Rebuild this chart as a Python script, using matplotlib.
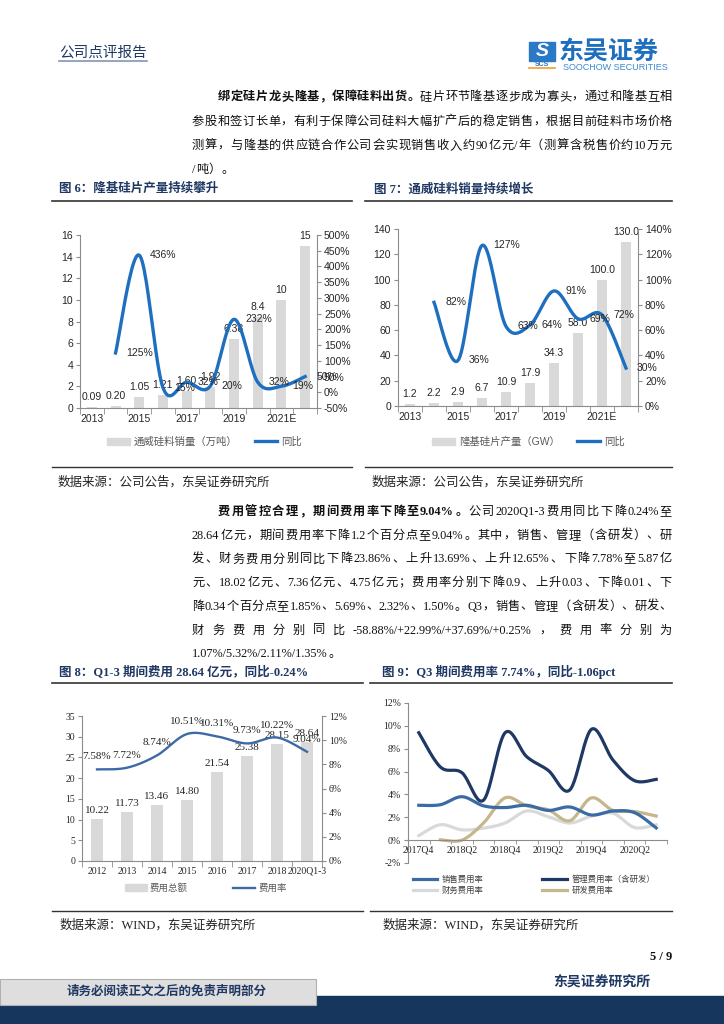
import numpy as np
import matplotlib.pyplot as plt
from matplotlib.patches import Rectangle, Patch
from matplotlib.lines import Line2D
from matplotlib.ticker import FuncFormatter

SANS = ['Liberation Sans', 'Noto Sans CJK SC']
SERIF = ['Liberation Serif', 'Noto Sans CJK SC']
plt.rcParams['font.family'] = SANS

# ---- data ----
years = ['2013', '2014', '2015', '2016', '2017', '2018', '2019', '2020', '2021E', '2022E']
tw_sales = [0.09, 0.20, 1.05, 1.21, 1.60, 1.92, 6.38, 8.4, 10, 15]
tw_sales_lbl = ['0.09', '0.20', '1.05', '1.21', '1.60', '1.92', '6.38', '8.4', '10', '15']
tw_yoy = [np.nan, 125, 436, 15, 32, 20, 232, 32, 19, 50]
lj_output = [1.2, 2.2, 2.9, 6.7, 10.9, 17.9, 34.3, 58.0, 100.0, 130.0]
lj_yoy = [np.nan, 82, 36, 127, 63, 64, 91, 69, 72, 30]

fee_years = ['2012', '2013', '2014', '2015', '2016', '2017', '2018', '2020Q1-3']
fee_total = [10.22, 11.73, 13.46, 14.80, 21.54, 25.38, 28.15, 28.64]
fee_rate = [7.58, 7.72, 8.74, 10.51, 10.31, 9.73, 10.22, 9.04]

quarters = ['2017Q4', '2018Q1', '2018Q2', '2018Q3', '2018Q4', '2019Q1', '2019Q2',
            '2019Q3', '2019Q4', '2020Q1', '2020Q2', '2020Q3']
sell_rate = [3.05, 3.1, 3.8, 3.0, 2.85, 3.05, 2.6, 2.9, 2.2, 2.55, 2.4, 1.07]
mgmt_rate = [9.4, 6.4, 5.9, 3.5, 9.4, 7.3, 6.1, 4.4, 9.7, 7.0, 5.2, 5.32]
fin_rate = [0.4, 1.35, 0.9, 1.05, 1.5, 2.55, 2.05, 1.5, 2.1, 2.35, 1.1, 1.35]
rd_rate = [np.nan, 0.03, 0.0, 1.5, 3.7, 3.0, 2.65, 1.7, 3.7, 2.6, 2.5, 2.11]

W, H = 724, 1024
NAVY = '#1F3864'
BLUE = '#1F6FC0'
GRAY_BAR = '#D9D9D9'
AXC = '#8C8C8C'
TXT = '#262626'

fig = plt.figure(figsize=(7.24, 10.24), dpi=100)
renderer = fig.canvas.get_renderer()


def box(l, t, r, b):
    return [l / W, 1 - b / H, (r - l) / W, (b - t) / H]


def put(x, y, s, **kw):
    return fig.text(x / W, 1 - y / H, s, **kw)


def hline(x0, x1, y, **kw):
    fig.add_artist(Line2D([x0 / W, x1 / W], [1 - y / H] * 2, transform=fig.transFigure, **kw))


def rect(x0, y0, x1, y1, **kw):
    fig.add_artist(Rectangle((x0 / W, 1 - y1 / H), (x1 - x0) / W, (y1 - y0) / H,
                             transform=fig.transFigure, **kw))


def tokens(s):
    out, buf = [], ''
    for ch in s:
        if ord(ch) < 128:
            if ch == ' ':
                if buf:
                    out.append(buf)
                buf = ''
            else:
                buf += ch
        else:
            if buf:
                out.append(buf)
            buf = ''
            out.append(ch)
    if buf:
        out.append(buf)
    return out


def text_line(x0, x1, y, parts, size=8.8, justify=True):
    items = []
    for s, wt in parts:
        for tk in tokens(s):
            t = put(0, y, tk, fontsize=size, fontweight=wt, family=SERIF,
                    va='center', ha='left', color='#111111')
            items.append((t, t.get_window_extent(renderer).width))
    total = sum(w for _, w in items)
    gap = (x1 - x0 - total) / (len(items) - 1) if justify and len(items) > 1 else 0.5
    x = x0
    for t, w in items:
        t.set_x(x / W)
        x += w + gap


def smooth(x, y, n=24):
    x = np.asarray(x, float)
    y = np.asarray(y, float)
    ok = ~np.isnan(y)
    x, y = x[ok], y[ok]
    m = len(x)
    xs, ys = [], []
    for i in range(m - 1):
        x0, y0 = (x[i - 1], y[i - 1]) if i > 0 else (x[i], y[i])
        x3, y3 = (x[i + 2], y[i + 2]) if i + 2 < m else (x[i + 1], y[i + 1])
        c1x, c1y = x[i] + (x[i + 1] - x0) / 6, y[i] + (y[i + 1] - y0) / 6
        c2x, c2y = x[i + 1] - (x3 - x[i]) / 6, y[i + 1] - (y3 - y[i]) / 6
        t = np.linspace(0, 1, n, endpoint=(i == m - 2))
        a, b, c, d = (1 - t) ** 3, 3 * (1 - t) ** 2 * t, 3 * (1 - t) * t ** 2, t ** 3
        xs.append(a * x[i] + b * c1x + c * c2x + d * x[i + 1])
        ys.append(a * y[i] + b * c1y + c * c2y + d * y[i + 1])
    return np.concatenate(xs), np.concatenate(ys)


pct = FuncFormatter(lambda v, _: f'{v:.0f}%')

# ---- header ----
put(59, 53, '公司点评报告', fontsize=10.5, color=NAVY, va='center', ha='left', family=SERIF)
hline(59, 147, 61, color='#8496B0', lw=1.2)
rect(529, 42, 555, 61, color='#2A78C6')
put(542, 51.5, 'S', fontsize=14, color='white', fontweight='bold', style='italic',
    ha='center', va='center')
put(542, 64.5, 'SCS', fontsize=5, color='#2A78C6', fontweight='bold', ha='center', va='center')
hline(529, 555, 68, color='#F0A030', lw=1.2)
put(559, 52, '东吴证券', fontsize=18, color='#1F6FBF', fontweight='bold', ha='left', va='center')
put(563, 67, 'SOOCHOW SECURITIES', fontsize=6.5, color='#3A8AD0', ha='left', va='center')

# ---- paragraph 1 ----
text_line(218, 672, 97, [('绑定硅片龙头隆基，保障硅料出货。', 'bold'),
                         ('硅片环节隆基逐步成为寡头，通过和隆基互相', 'normal')])
text_line(192, 672, 121.5, [('参股和签订长单，有利于保障公司硅料大幅扩产后的稳定销售，根据目前硅料市场价格', 'normal')])
text_line(192, 672, 146, [('测算，与隆基的供应链合作公司会实现销售收入约 90 亿元/年（测算含税售价约 10 万元', 'normal')])
text_line(192, 672, 170, [('/吨）。', 'normal')], justify=False)

# ---- figure titles ----
put(59, 189, '图 6：隆基硅片产量持续攀升', fontsize=9, fontweight='bold', color=NAVY, va='center', family=SERIF)
put(374, 189, '图 7：通威硅料销量持续增长', fontsize=9, fontweight='bold', color=NAVY, va='center', family=SERIF)
hline(52, 352, 201, color='#333333', lw=1.2)
hline(365, 672, 201, color='#333333', lw=1.2)


def dual_style(ax, axr, serif=False):
    fam = SERIF if serif else SANS
    size = 7 if serif else 7.5
    for a in (ax, axr):
        a.spines['top'].set_visible(False)
        for sp in a.spines.values():
            sp.set_color(AXC)
            sp.set_linewidth(0.8)
    axr.spines['left'].set_visible(False)
    axr.spines['bottom'].set_visible(False)
    ax.spines['right'].set_visible(False)
    ax.tick_params(axis='y', length=3, color=AXC, labelsize=size, pad=2, labelcolor=TXT,
                   labelfontfamily=fam)
    axr.tick_params(axis='y', length=3, color=AXC, labelsize=size, pad=2, labelcolor=TXT,
                    labelfontfamily=fam)
    ax.tick_params(axis='x', which='major', length=0, labelsize=size, pad=4, labelcolor=TXT,
                   labelfontfamily=fam)
    ax.tick_params(axis='x', which='minor', length=4, color=AXC)


# ---- chart 6 ----
x = np.arange(len(years))
ax6 = fig.add_axes(box(80, 235, 317, 408))
ax6.bar(x, tw_sales, width=0.42, color=GRAY_BAR)
for xi, v, s in zip(x, tw_sales, tw_sales_lbl):
    ax6.annotate(s, (xi, v), xytext=(0, 5), textcoords='offset pixels', ha='center',
                 va='bottom', fontsize=7.5, color=TXT)
ax6.set_xlim(-0.5, len(years) - 0.5)
ax6.set_ylim(0, 16)
ax6.set_yticks(np.arange(0, 17, 2))
ax6.set_xticks(x[::2])
ax6.set_xticklabels(years[::2])
ax6.set_xticks(np.arange(-0.5, len(years)), minor=True)
ax6r = ax6.twinx()
sx, sy = smooth(x, tw_yoy)
ax6r.plot(sx, sy, color=BLUE, lw=2.4)
for xi, v in zip(x, tw_yoy):
    if not np.isnan(v):
        ax6r.annotate(f'{v:.0f}%', (xi, v), xytext=(11, 0), textcoords='offset pixels',
                      ha='left', va='center', fontsize=7.5, color=TXT)
ax6r.set_ylim(-50, 500)
ax6r.set_yticks(np.arange(-50, 501, 50))
ax6r.yaxis.set_major_formatter(pct)
dual_style(ax6, ax6r)
ax6.legend([Patch(color=GRAY_BAR), Line2D([], [], color=BLUE, lw=2.4)],
           ['通威硅料销量（万吨）', '同比'], loc='center left',
           bbox_to_anchor=(107 / W, 1 - 442 / H), bbox_transform=fig.transFigure,
           ncol=2, frameon=False, fontsize=7.5, handlelength=2.2, handletextpad=0.4,
           columnspacing=1.6, borderpad=0, borderaxespad=0, labelcolor='#595959')

# ---- chart 7 ----
ax7 = fig.add_axes(box(398, 229, 638, 406))
ax7.bar(x, lj_output, width=0.42, color=GRAY_BAR)
for xi, v in zip(x, lj_output):
    ax7.annotate(f'{v:.1f}', (xi, v), xytext=(0, 5), textcoords='offset pixels', ha='center',
                 va='bottom', fontsize=7.5, color=TXT)
ax7.set_xlim(-0.5, len(years) - 0.5)
ax7.set_ylim(0, 140)
ax7.set_yticks(np.arange(0, 141, 20))
ax7.set_xticks(x[::2])
ax7.set_xticklabels(years[::2])
ax7.set_xticks(np.arange(-0.5, len(years)), minor=True)
ax7r = ax7.twinx()
sx, sy = smooth(x, lj_yoy)
ax7r.plot(sx, sy, color=BLUE, lw=2.4)
for xi, v in zip(x, lj_yoy):
    if not np.isnan(v):
        ax7r.annotate(f'{v:.0f}%', (xi, v), xytext=(11, 0), textcoords='offset pixels',
                      ha='left', va='center', fontsize=7.5, color=TXT)
ax7r.set_ylim(0, 140)
ax7r.set_yticks(np.arange(0, 141, 20))
ax7r.yaxis.set_major_formatter(pct)
dual_style(ax7, ax7r)
ax7.legend([Patch(color=GRAY_BAR), Line2D([], [], color=BLUE, lw=2.4)],
           ['隆基硅片产量（GW）', '同比'], loc='center left',
           bbox_to_anchor=(432 / W, 1 - 442 / H), bbox_transform=fig.transFigure,
           ncol=2, frameon=False, fontsize=7.5, handlelength=2.2, handletextpad=0.4,
           columnspacing=1.6, borderpad=0, borderaxespad=0, labelcolor='#595959')

hline(52, 352, 467, color='#333333', lw=1.0)
hline(365, 672, 467, color='#333333', lw=1.0)
put(58, 482, '数据来源：公司公告，东吴证券研究所', fontsize=9, va='center', color='#222222', family=SERIF)
put(372, 482, '数据来源：公司公告，东吴证券研究所', fontsize=9, va='center', color='#222222', family=SERIF)

# ---- paragraph 2 ----
ys2 = [512, 535.7, 559.4, 583.1, 606.8, 630.5, 654.2]
text_line(218, 672, ys2[0], [('费用管控合理，期间费用率下降至 9.04%。', 'bold'),
                             ('公司 2020Q1-3 费用同比下降 0.24%至', 'normal')])
text_line(192, 672, ys2[1], [('28.64 亿元，期间费用率下降 1.2 个百分点至 9.04%。其中，销售、管理（含研发）、研', 'normal')])
text_line(192, 672, ys2[2], [('发、财务费用分别同比下降 23.86%、上升 13.69%、上升 12.65%、下降 7.78%至 5.87 亿', 'normal')])
text_line(192, 672, ys2[3], [('元、18.02 亿元、7.36 亿元、4.75 亿元；费用率分别下降 0.9、上升 0.03、下降 0.01、下', 'normal')])
text_line(192, 672, ys2[4], [('降 0.34 个百分点至 1.85%、5.69%、2.32%、1.50%。Q3，销售、管理（含研发）、研发、', 'normal')])
text_line(192, 672, ys2[5], [('财务费用分别同比 -58.88%/+22.99%/+37.69%/+0.25% ，费用率分别为', 'normal')])
text_line(192, 672, ys2[6], [('1.07%/5.32%/2.11%/1.35%。', 'normal')], justify=False)

put(59, 672, '图 8：Q1-3 期间费用 28.64 亿元，同比-0.24%', fontsize=9, fontweight='bold',
    color=NAVY, va='center', family=SERIF)
put(382, 672, '图 9：Q3 期间费用率 7.74%，同比-1.06pct', fontsize=9, fontweight='bold',
    color=NAVY, va='center', family=SERIF)
hline(52, 363, 683, color='#333333', lw=1.2)
hline(370, 672, 683, color='#333333', lw=1.2)

# ---- chart 8 ----
x8 = np.arange(len(fee_years))
ax8 = fig.add_axes(box(82, 716, 322, 861))
ax8.bar(x8, fee_total, width=0.41, color=GRAY_BAR)
for xi, v in zip(x8, fee_total):
    ax8.annotate(f'{v:.2f}', (xi, v), xytext=(0, 4), textcoords='offset pixels', ha='center',
                 va='bottom', fontsize=8, color=TXT, family=SERIF)
ax8.set_xlim(-0.5, len(fee_years) - 0.5)
ax8.set_ylim(0, 35)
ax8.set_yticks(np.arange(0, 36, 5))
ax8.set_xticks(x8)
ax8.set_xticklabels(fee_years)
ax8.set_xticks(np.arange(-0.5, len(fee_years)), minor=True)
ax8r = ax8.twinx()
sx, sy = smooth(x8, fee_rate)
ax8r.plot(sx, sy, color='#3D6AA6', lw=1.7)
for xi, v in zip(x8, fee_rate):
    ax8r.annotate(f'{v:.2f}%', (xi, v), xytext=(0, 8), textcoords='offset pixels',
                  ha='center', va='bottom', fontsize=8, color=TXT, family=SERIF)
ax8r.set_ylim(0, 12)
ax8r.set_yticks(np.arange(0, 13, 2))
ax8r.yaxis.set_major_formatter(pct)
dual_style(ax8, ax8r, serif=True)
ax8.legend([Patch(color=GRAY_BAR), Line2D([], [], color='#3D6AA6', lw=1.7)],
           ['费用总额', '费用率'], loc='center left',
           bbox_to_anchor=(125 / W, 1 - 888 / H), bbox_transform=fig.transFigure,
           ncol=2, frameon=False, fontsize=6.8, handlelength=2.3, handletextpad=0.35,
           columnspacing=4.8, borderpad=0, borderaxespad=0, labelcolor='#595959')

# ---- chart 9 ----
xq = np.arange(len(quarters))
ax9 = fig.add_axes(box(408, 703, 667, 863))
series9 = [(sell_rate, '#3B6BA5', '销售费用率'), (fin_rate, '#D9D9D9', '财务费用率'),
           (mgmt_rate, '#1F3864', '管理费用率（含研发）'), (rd_rate, '#C6B68C', '研发费用率')]
handles = []
for vals, col, lab in [series9[1], series9[3], series9[0], series9[2]]:
    sx, sy = smooth(xq, vals)
    ax9.plot(sx, sy, color=col, lw=2.3)
for vals, col, lab in series9:
    handles.append(Line2D([], [], color=col, lw=2.3, label=lab))
ax9.set_xlim(-0.5, len(quarters) - 0.5)
ax9.set_ylim(-2, 12)
ax9.set_yticks(np.arange(-2, 13, 2))
ax9.yaxis.set_major_formatter(pct)
ax9.set_xticks(xq[::2])
ax9.set_xticklabels(quarters[::2])
ax9.set_xticks(np.arange(-0.5, len(quarters)), minor=True)
ax9.spines['bottom'].set_position(('data', 0))
ax9.spines['top'].set_visible(False)
ax9.spines['right'].set_visible(False)
for sp in ('left', 'bottom'):
    ax9.spines[sp].set_color(AXC)
    ax9.spines[sp].set_linewidth(0.8)
ax9.tick_params(axis='y', length=3, color=AXC, labelsize=7, pad=2, labelcolor=TXT,
                labelfontfamily=SERIF)
ax9.tick_params(axis='x', which='major', length=0, labelsize=7, pad=4, labelcolor=TXT,
                labelfontfamily=SERIF)
ax9.tick_params(axis='x', which='minor', length=3, color=AXC)
ax9.legend(handles=handles, loc='upper left',
           bbox_to_anchor=(413 / W, 1 - 875 / H), bbox_transform=fig.transFigure,
           ncol=2, frameon=False, fontsize=6, handlelength=2.9, handletextpad=0.6,
           columnspacing=7.0, labelspacing=0.35, borderpad=0, borderaxespad=0,
           labelcolor='#404040')

hline(52, 363, 911, color='#333333', lw=1.0)
hline(370, 672, 911, color='#333333', lw=1.0)
put(60, 925, '数据来源：WIND，东吴证券研究所', fontsize=9, va='center', color='#222222', family=SERIF)
put(383, 925, '数据来源：WIND，东吴证券研究所', fontsize=9, va='center', color='#222222', family=SERIF)

# ---- footer ----
put(661, 957, '5 / 9', fontsize=9, fontweight='bold', ha='center', va='center', family=SERIF,
    color='#111111')
put(602, 983, '东吴证券研究所', fontsize=10, fontweight='bold', ha='center', va='center',
    color=NAVY, family=SERIF)
rect(0, 996, W, H, color='#17365D')
rect(0, 979, 316, 1005, facecolor='#DEDEDE', edgecolor='#B0B0B0', lw=0.8)
put(167, 992, '请务必阅读正文之后的免责声明部分', fontsize=9, fontweight='bold', ha='center',
    va='center', color=NAVY, family=SERIF)

fig.savefig('out.png', dpi=100)
